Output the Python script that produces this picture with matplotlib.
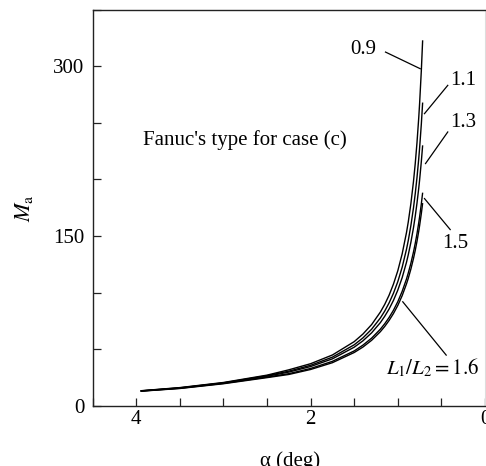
import matplotlib
matplotlib.use("Agg")
import matplotlib.pyplot as plt
from matplotlib.ticker import MultipleLocator

plt.rcParams['font.family'] = ['Liberation Serif', 'DejaVu Serif']
plt.rcParams['mathtext.fontset'] = 'stix'

# alpha (deg) sample positions
alpha = [3.95, 3.5, 3.0, 2.5, 2.25, 2.0, 1.75, 1.5, 1.4, 1.3, 1.2, 1.15, 1.1, 1.05,
         1.0, 0.95, 0.9, 0.88, 0.85, 0.82, 0.8, 0.78, 0.76, 0.75, 0.73, 0.715]

# M_a for each L1/L2 ratio
ma_09 = [13.2, 16.0, 20.5, 27.0, 31.7, 37.1, 44.8, 56.6, 63.3, 71.7, 82.7, 89.5, 97.6, 107.4,
         119.2, 134.1, 153.1, 162.3, 178.5, 198.2, 213.9, 232.3, 254.2, 266.8, 296.2, 322.8]
ma_11 = [13.1, 15.8, 20.2, 26.5, 30.5, 35.7, 42.9, 53.8, 59.9, 67.6, 77.5, 83.6, 90.8, 99.3,
         109.6, 122.3, 138.3, 145.9, 159.1, 174.9, 187.3, 201.5, 218.1, 227.5, 248.9, 267.8]
ma_13 = [13.0, 15.6, 20.0, 26.0, 29.7, 34.6, 41.4, 51.7, 57.3, 64.4, 73.4, 79.0, 85.4, 93.0,
         102.1, 113.1, 126.8, 133.3, 144.3, 157.3, 167.4, 178.9, 192.0, 199.3, 215.8, 230.0]
ma_15 = [12.9, 15.4, 19.7, 25.3, 28.3, 32.9, 39.2, 48.4, 53.5, 59.7, 67.6, 72.4, 77.9, 84.3,
         91.9, 101.0, 112.0, 117.2, 125.8, 135.8, 143.4, 151.9, 161.5, 166.8, 178.4, 188.2]
ma_16 = [12.8, 15.2, 19.4, 24.8, 27.6, 32.0, 38.0, 47.0, 51.8, 57.8, 65.4, 70.0, 75.3, 81.4,
         88.6, 97.2, 107.7, 112.5, 120.7, 130.1, 137.2, 145.2, 154.1, 159.0, 169.8, 179.0]

series = [ma_09, ma_11, ma_13, ma_15, ma_16]

fig = plt.figure(figsize=(4.86, 4.66), dpi=100)
ax = fig.add_axes([0.1907, 0.1294, 0.8072, 0.8502])

for s in series:
    ax.plot(alpha, s, color='black', lw=1.0, solid_capstyle='butt', solid_joinstyle='round')

ax.set_xlim(4.5, 0)
ax.set_ylim(0, 350)
ax.xaxis.set_major_locator(MultipleLocator(2))
ax.xaxis.set_minor_locator(MultipleLocator(0.5))
ax.yaxis.set_major_locator(MultipleLocator(150))
ax.yaxis.set_minor_locator(MultipleLocator(50))
ax.tick_params(axis='both', which='both', direction='in', length=6, width=0.9,
               color='#222222', labelsize=15)
ax.tick_params(axis='x', which='both', top=False, pad=3)
ax.tick_params(axis='y', which='both', right=False, pad=6)

for side in ['left', 'bottom', 'top']:
    ax.spines[side].set_color('#222222')
    ax.spines[side].set_linewidth(1.0)
ax.spines['right'].set_color('#dddddd')
ax.spines['right'].set_linewidth(0.8)

ax.set_ylabel(r'$M_{\rm a}$', fontsize=16, labelpad=13)
fig.text(290/486, 1 - 451/466, 'α (deg)', ha='center', va='top', fontsize=15)

ax.text(3.924, 235, "Fanuc's type for case (c)", fontsize=15, ha='left', va='center')

# labels with leader lines
lw_l = 0.9
ax.plot([1.141, 0.743], [312.4, 297.7], color='black', lw=lw_l)
ax.text(1.25, 314.5, '0.9', fontsize=15, ha='right', va='center')

ax.plot([0.694, 0.427], [258, 283], color='black', lw=lw_l)
ax.text(0.40, 287.4, '1.1', fontsize=15, ha='left', va='center')

ax.plot([0.682, 0.427], [213.9, 241.8], color='black', lw=lw_l)
ax.text(0.40, 250.6, '1.3', fontsize=15, ha='left', va='center')

ax.plot([0.694, 0.399], [183, 155.6], color='black', lw=lw_l)
ax.text(0.338, 143.3, '1.5', fontsize=15, ha='center', va='center')

ax.plot([0.943, 0.445], [91.8, 44.7], color='black', lw=lw_l)
ax.text(0.599, 33, r'$L_1/L_2 = 1.6$', fontsize=15, ha='center', va='center')

fig.savefig('out.png', dpi=100)
